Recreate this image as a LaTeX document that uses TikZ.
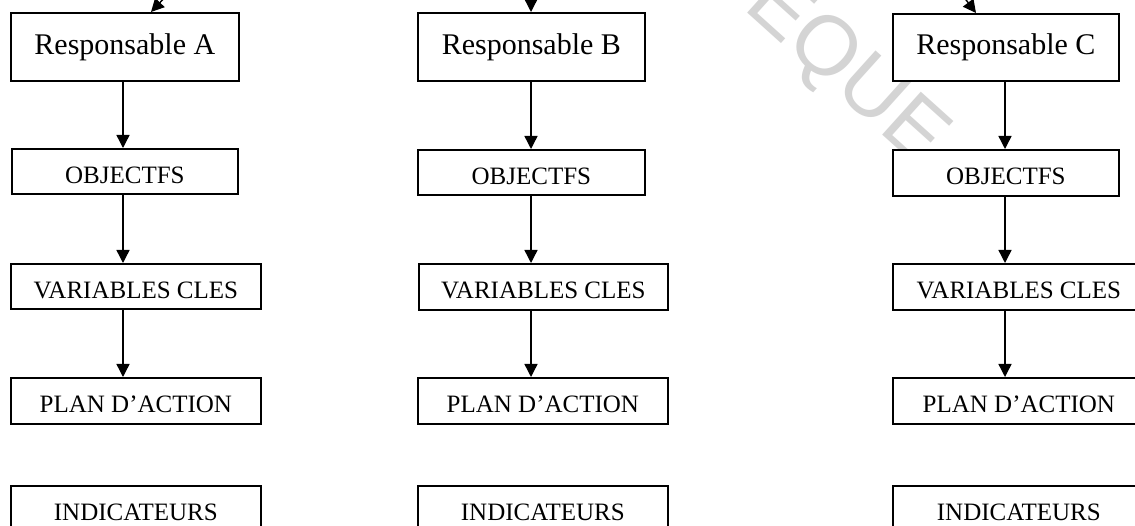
\documentclass[tikz,border=0pt]{standalone}
\usepackage{fontspec}
\setmainfont{Liberation Serif}
\newfontfamily\wmfont{Liberation Sans}
\usetikzlibrary{arrows.meta}
\definecolor{wmgray}{RGB}{212,212,212}
\begin{document}
\begin{tikzpicture}[x=1pt,y=-1pt,
  sbox/.style={draw, line width=1.7pt, fill=white, inner sep=0pt, anchor=north west,
    font=\fontsize{25}{25}\selectfont, text height=23.5pt, text depth=0pt},
  rbox/.style={draw, line width=1.7pt, fill=white, inner sep=0pt, anchor=north west,
    font=\fontsize{30}{30}\selectfont},
  arr/.style={line width=1.4pt, -{Triangle[length=13pt,width=13pt]}},
  wm/.style={font=\wmfont\fontsize{84}{84}\selectfont, text=wmgray, inner sep=0pt}]
\useasboundingbox (0,0) rectangle (1135,526);
\clip (0,0) rectangle (1135,526);
\fill[white] (0,0) rectangle (1135,526);
% watermark
\node[wm, rotate=-42] (wmk) at (845,72) {EQUE};
% column A
\node[rbox, minimum width=228pt, minimum height=68pt] (rA) at (10,12) {Responsable A};
\node[sbox, minimum width=226pt, minimum height=45pt] (oA) at (11,148) {OBJECTFS};
\node[sbox, minimum width=250pt, minimum height=45pt] (vA) at (10,263) {VARIABLES CLES};
\node[sbox, minimum width=250pt, minimum height=46pt] (pA) at (10,377) {PLAN D’ACTION};
\node[sbox, minimum width=250pt, minimum height=46pt] (iA) at (10,485) {INDICATEURS};
% column B
\node[rbox, minimum width=227pt, minimum height=68pt] (rB) at (417,12) {Responsable B};
\node[sbox, minimum width=227pt, minimum height=45pt] (oB) at (417,149) {OBJECTFS};
\node[sbox, minimum width=249pt, minimum height=46pt] (vB) at (418,263) {VARIABLES CLES};
\node[sbox, minimum width=250pt, minimum height=46pt] (pB) at (417,377) {PLAN D’ACTION};
\node[sbox, minimum width=250pt, minimum height=46pt] (iB) at (417,485) {INDICATEURS};
% column C
\node[rbox, minimum width=226pt, minimum height=67pt] (rC) at (892,13) {Responsable C};
\node[sbox, minimum width=226pt, minimum height=46pt] (oC) at (892,149) {OBJECTFS};
\node[sbox, minimum width=252pt, minimum height=46pt] (vC) at (892,263) {VARIABLES CLES};
\node[sbox, minimum width=252pt, minimum height=46pt] (pC) at (892,377) {PLAN D’ACTION};
\node[sbox, minimum width=252pt, minimum height=46pt] (iC) at (892,485) {INDICATEURS};
% column axes
\coordinate (cA) at (123,0);
\coordinate (cB) at (531,0);
\coordinate (cC) at (1005,0);
% vertical arrows
\draw[arr] (rA.south -| cA) -- (oA.north -| cA);
\draw[arr] (oA.south -| cA) -- (vA.north -| cA);
\draw[arr] (vA.south -| cA) -- (pA.north -| cA);
\draw[arr] (rB.south -| cB) -- (oB.north -| cB);
\draw[arr] (oB.south -| cB) -- (vB.north -| cB);
\draw[arr] (vB.south -| cB) -- (pB.north -| cB);
\draw[arr] (rC.south -| cC) -- (oC.north -| cC);
\draw[arr] (oC.south -| cC) -- (vC.north -| cC);
\draw[arr] (vC.south -| cC) -- (pC.north -| cC);
% incoming arrows from above
\coordinate (tA) at (170,-8);
\coordinate (hA) at (151,0);
\coordinate (tB) at (531,-12);
\coordinate (tC) at (960,-8);
\coordinate (hC) at (976,0);
\draw[arr] (tA) -- (rA.north -| hA);
\draw[arr] (tB) -- (rB.north -| tB);
\draw[arr] (tC) -- (rC.north -| hC);
\end{tikzpicture}
\end{document}
